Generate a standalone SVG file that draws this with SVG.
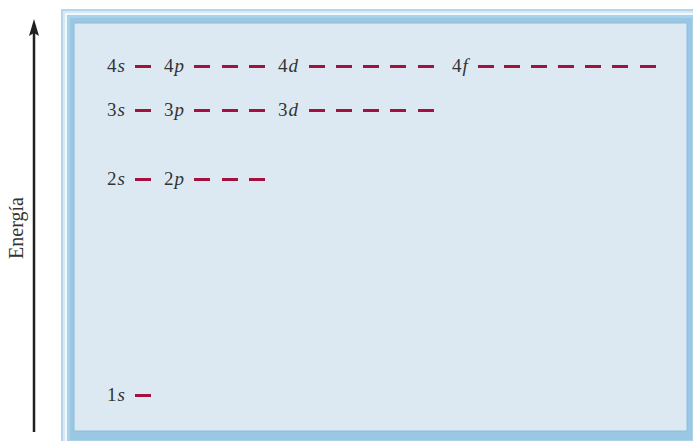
<svg xmlns="http://www.w3.org/2000/svg" width="693" height="441" viewBox="0 0 693 441">
<style>
.lbl{font-family:"Liberation Serif","Times New Roman","DejaVu Serif",serif;font-size:19px;fill:#333}
.it{font-style:italic}
.d{stroke:#a3123f;stroke-width:3;fill:none}
</style>
<g id="frame">
<rect x="61" y="9" width="640" height="440" fill="#b3d6ec"/>
<rect x="63" y="11" width="636" height="436" fill="#d6eaf6"/>
<rect x="65" y="13" width="632" height="432" fill="#f2f8fc"/>
<rect x="67" y="15" width="628" height="428" fill="#abd2eb"/>
<rect x="70" y="18" width="622" height="422" fill="#9ac7e4"/>
<rect x="74" y="23" width="613" height="408" fill="#dce9f3" stroke="#8fbcdd" stroke-width="1"/>
</g>
<g id="axis">
<line x1="34" y1="432" x2="34" y2="30" stroke="#231f20" stroke-width="2.5"/>
<path d="M34,19 L39,36 L34,33 L29,36 Z" fill="#231f20"/>
<text class="lbl" style="font-size:20px" transform="translate(23,228) rotate(-90)" text-anchor="middle">Energía</text>
</g>
<g id="connectors"/>
<g id="n4s"><text class="lbl" x="107" y="72">4<tspan class="it" dx="1">s</tspan></text><path class="d" d="M135,66.5h16"/></g>
<g id="n4p"><text class="lbl" x="164" y="72">4<tspan class="it" dx="1">p</tspan></text><path class="d" d="M194,66.5h16M222,66.5h16M249,66.5h16"/></g>
<g id="n4d"><text class="lbl" x="278" y="72">4<tspan class="it" dx="1">d</tspan></text><path class="d" d="M309,66.5h16M336,66.5h16M363,66.5h16M390,66.5h16M418,66.5h16"/></g>
<g id="n4f"><text class="lbl" x="452" y="72">4<tspan class="it" dx="1">f</tspan></text><path class="d" d="M478,66.5h16M504,66.5h16M531,66.5h16M558,66.5h16M585,66.5h16M612,66.5h16M640,66.5h16"/></g>
<g id="n3s"><text class="lbl" x="107" y="116">3<tspan class="it" dx="1">s</tspan></text><path class="d" d="M135,110.5h16"/></g>
<g id="n3p"><text class="lbl" x="164" y="116">3<tspan class="it" dx="1">p</tspan></text><path class="d" d="M194,110.5h16M222,110.5h16M249,110.5h16"/></g>
<g id="n3d"><text class="lbl" x="278" y="116">3<tspan class="it" dx="1">d</tspan></text><path class="d" d="M309,110.5h16M336,110.5h16M363,110.5h16M390,110.5h16M418,110.5h16"/></g>
<g id="n2s"><text class="lbl" x="107" y="185">2<tspan class="it" dx="1">s</tspan></text><path class="d" d="M135,179.5h16"/></g>
<g id="n2p"><text class="lbl" x="164" y="185">2<tspan class="it" dx="1">p</tspan></text><path class="d" d="M194,179.5h16M222,179.5h16M249,179.5h16"/></g>
<g id="n1s"><text class="lbl" x="107" y="401">1<tspan class="it" dx="1">s</tspan></text><path class="d" d="M135,395.5h16"/></g>
</svg>
